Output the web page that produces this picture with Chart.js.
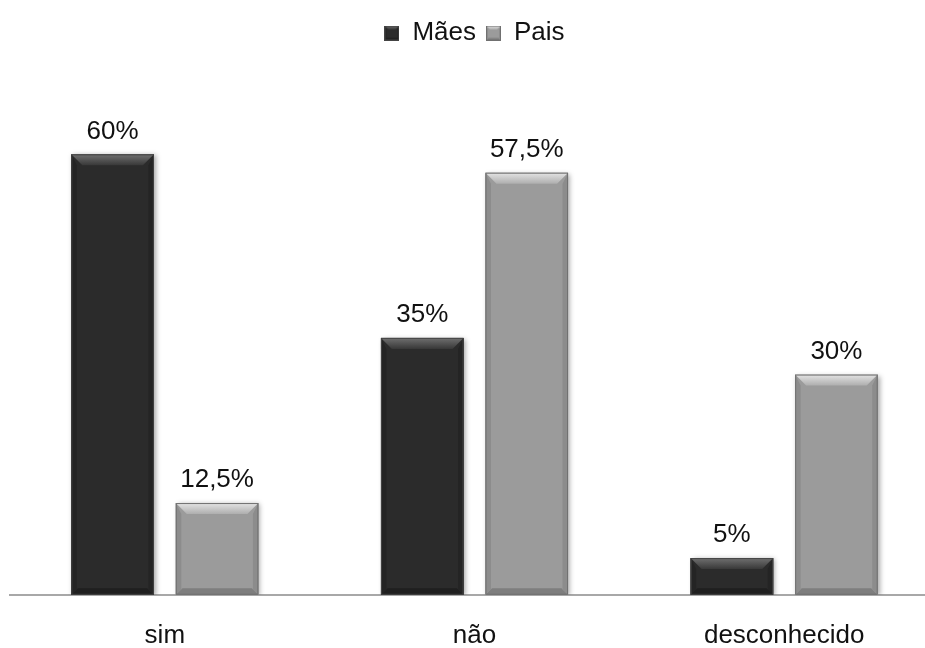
<!DOCTYPE html>
<html>
<head>
<meta charset="utf-8">
<script src="https://cdn.jsdelivr.net/npm/chart.js@4"></script>
<style>
  html, body { margin: 0; padding: 0; background: #fff; overflow: hidden; }
  #wrap { width: 925px; height: 648px; overflow: hidden; }
</style>
</head>
<body>
<div id="wrap"><canvas id="c" width="940" height="676"></canvas></div>
<script>
// Categories and series
const categories = ['sim', 'não', 'desconhecido'];
const maes = [60, 35, 5];
const pais = [12.5, 57.5, 30];
const seriesNames = ['Mães', 'Pais'];

const FONT = '"Liberation Sans", Arial, sans-serif';

// Colour sets for the bevelled bars
const palette = [
  { fill: '#2b2b2b', top: '#707070', topEnd: '#383838', bottom: '#1f1f1f', side: '#242424', edge: '#444444' },
  { fill: '#9b9b9b', top: '#e4e4e4', topEnd: '#aeaeae', bottom: '#7e7e7e', side: '#8c8c8c', edge: '#707070' }
];

function fmt(v) { return String(v).replace('.', ',') + '%'; }

// Draws a bevelled rectangle at the given box
function bevel(ctx, x0, y0, x1, y1, p, b) {
  const w = x1 - x0, h = y1 - y0;
  const d = Math.min(b, h / 2, w / 2);
  ctx.save();
  ctx.fillStyle = p.fill;
  ctx.fillRect(x0, y0, w, h);
  // top facet
  const g = ctx.createLinearGradient(0, y0, 0, y0 + d);
  g.addColorStop(0, p.top);
  g.addColorStop(1, p.topEnd);
  ctx.fillStyle = g;
  ctx.beginPath();
  ctx.moveTo(x0, y0); ctx.lineTo(x1, y0); ctx.lineTo(x1 - d, y0 + d); ctx.lineTo(x0 + d, y0 + d); ctx.closePath();
  ctx.fill();
  // bottom facet
  ctx.fillStyle = p.bottom;
  ctx.beginPath();
  ctx.moveTo(x0, y1); ctx.lineTo(x1, y1); ctx.lineTo(x1 - d * 0.6, y1 - d * 0.6); ctx.lineTo(x0 + d * 0.6, y1 - d * 0.6); ctx.closePath();
  ctx.fill();
  // side facets
  ctx.fillStyle = p.side;
  ctx.beginPath();
  ctx.moveTo(x0, y0); ctx.lineTo(x0 + d * 0.5, y0 + d); ctx.lineTo(x0 + d * 0.5, y1 - d * 0.5); ctx.lineTo(x0, y1); ctx.closePath();
  ctx.fill();
  ctx.beginPath();
  ctx.moveTo(x1, y0); ctx.lineTo(x1 - d * 0.5, y0 + d); ctx.lineTo(x1 - d * 0.5, y1 - d * 0.5); ctx.lineTo(x1, y1); ctx.closePath();
  ctx.fill();
  ctx.strokeStyle = p.edge;
  ctx.lineWidth = 1;
  ctx.strokeRect(x0 + 0.5, y0 + 0.5, w - 1, h - 1);
  ctx.restore();
}

// Small bevelled swatches for the legend
function swatch(p) {
  const cv = document.createElement('canvas');
  cv.width = 15; cv.height = 15;
  bevel(cv.getContext('2d'), 0, 0, 15, 15, p, 4);
  return cv;
}

const bevelPlugin = {
  id: 'bevelBars',
  beforeDatasetsDraw(chart) {
    const ctx = chart.ctx;
    ctx.save();
    ctx.shadowColor = 'rgba(0,0,0,0.35)';
    ctx.shadowBlur = 5;
    ctx.shadowOffsetX = 2;
    ctx.shadowOffsetY = 1;
  },
  afterDatasetsDraw(chart) {
    const ctx = chart.ctx;
    ctx.restore();
    chart.data.datasets.forEach((ds, i) => {
      const meta = chart.getDatasetMeta(i);
      meta.data.forEach((bar, j) => {
        const { x, y, base, width } = bar.getProps(['x', 'y', 'base', 'width'], true);
        bevel(ctx, x - width / 2, y, x + width / 2, base, palette[i], 11);
        // value label above the bar
        ctx.save();
        ctx.fillStyle = '#111';
        ctx.font = '26px ' + FONT;
        ctx.textAlign = 'center';
        ctx.textBaseline = 'middle';
        ctx.fillText(fmt(ds.data[j]), x, y - 23);
        ctx.restore();
      });
    });
  }
};

new Chart(document.getElementById('c'), {
  type: 'bar',
  data: {
    labels: categories,
    datasets: [
      { label: seriesNames[0], data: maes, backgroundColor: palette[0].fill, pointStyle: swatch(palette[0]) },
      { label: seriesNames[1], data: pais, backgroundColor: palette[1].fill, pointStyle: swatch(palette[1]) }
    ]
  },
  options: {
    responsive: false,
    animation: false,
    events: [],
    layout: { padding: { left: 10, right: 1, top: 10, bottom: 0 } },
    categoryPercentage: 0.675,
    barPercentage: 0.79,
    plugins: {
      legend: {
        position: 'top',
        labels: {
          usePointStyle: true,
          font: { family: FONT, size: 26 },
          color: '#111',
          padding: 10,
          boxWidth: 15,
          boxHeight: 15
        }
      },
      tooltip: { enabled: false }
    },
    scales: {
      x: {
        grid: { display: false, drawTicks: false },
        border: { display: true, color: '#a8a8a8', width: 2 },
        ticks: { color: '#111', font: { family: FONT, size: 26 }, padding: 25 }
      },
      y: {
        display: false,
        min: 0,
        max: 73.4
      }
    }
  },
  plugins: [bevelPlugin]
});
</script>
</body>
</html>
